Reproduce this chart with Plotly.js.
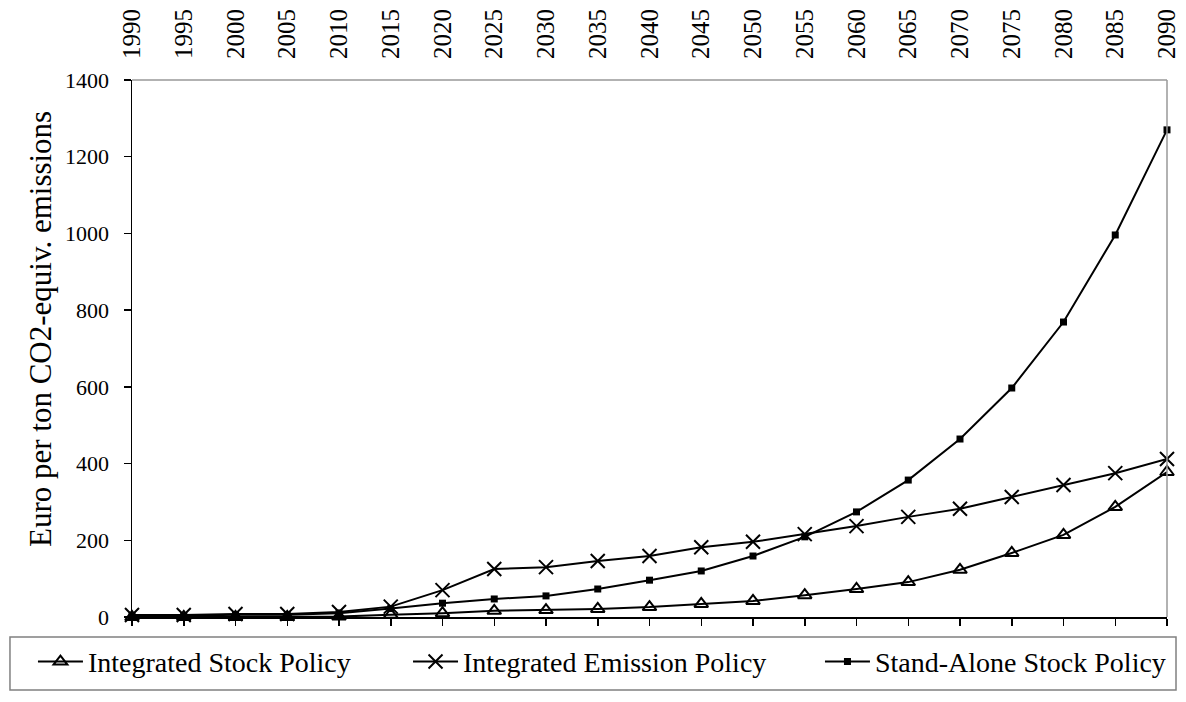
<!DOCTYPE html>
<html>
<head>
<meta charset="utf-8">
<script src="https://cdn.plot.ly/plotly-3.0.1.min.js"></script>
<style>html,body{margin:0;padding:0;background:#fff;}#chart{width:1186px;height:702px;}</style>
</head>
<body>
<div id="chart"></div>
<script>
const years = [1990,1995,2000,2005,2010,2015,2020,2025,2030,2035,2040,2045,2050,2055,2060,2065,2070,2075,2080,2085,2090];
const integratedStock = [0,0,0,0,1,6,10,16,18,21,26,34,42,57,73,91,123,167,214,287,378];
const integratedEmission = [5,5,8,8,13,27,70,125,130,146,159,182,196,216,237,261,282,313,344,375,412];
const standAloneStock = [3,3,6,6,10,22,36,47,55,73,96,120,159,209,274,357,464,597,769,996,1270];
const seriesNames = ['Integrated Stock Policy','Integrated Emission Policy','Stand-Alone Stock Policy'];
const yTicks = [0,200,400,600,800,1000,1200,1400];

const font = 'Liberation Serif, Times New Roman, serif';
const traces = [
  {x: years, y: integratedStock, name: seriesNames[0], legend: 'legend', mode: 'lines+markers', cliponaxis: false,
   line: {color: '#000', width: 2}, marker: {symbol: 'triangle-up-open', size: 12, color: '#000', line: {color: '#000', width: 2}}},
  {x: years, y: integratedEmission, name: seriesNames[1], legend: 'legend2', mode: 'lines+markers', cliponaxis: false,
   line: {color: '#000', width: 2}, marker: {symbol: 'x-thin-open', size: 14, color: '#000', line: {color: '#000', width: 2}}},
  {x: years, y: standAloneStock, name: seriesNames[2], legend: 'legend3', mode: 'lines+markers', cliponaxis: false,
   line: {color: '#000', width: 2}, marker: {symbol: 'square', size: 7, color: '#000'}},
  {x: years, y: years.map(() => null), xaxis: 'x2', showlegend: false, hoverinfo: 'skip', mode: 'lines'}
];

const legendBase = {orientation: 'h', xanchor: 'left', y: -0.037, yanchor: 'top', itemwidth: 45,
  font: {family: font, size: 28, color: '#000'}, bgcolor: 'rgba(0,0,0,0)', borderwidth: 0};

const layout = {
  width: 1186, height: 702,
  margin: {l: 132, r: 19, t: 80, b: 85, autoexpand: false},
  paper_bgcolor: '#fff', plot_bgcolor: '#fff',
  font: {family: font, size: 22, color: '#000'},
  showlegend: true,
  legend: Object.assign({}, legendBase, {x: -0.0957}),
  legend2: Object.assign({}, legendBase, {x: 0.2667}),
  legend3: Object.assign({}, legendBase, {x: 0.6647}),
  xaxis: {range: [1990, 2090], tickvals: years, showticklabels: false, ticks: 'outside', ticklen: 7,
          tickcolor: '#000', tickwidth: 1.5, showline: true, linecolor: '#000', linewidth: 1.5,
          showgrid: false, zeroline: false, fixedrange: true},
  xaxis2: {overlaying: 'x', matches: 'x', side: 'top', range: [1990, 2090], tickvals: years,
           ticktext: years.map(String), tickangle: -90, ticks: '', ticklabelstandoff: 20,
           showline: false, showgrid: false, zeroline: false,
           tickfont: {family: font, size: 25, color: '#000'}},
  yaxis: {range: [0, 1400], tickvals: yTicks, ticks: 'outside', ticklen: 7, tickcolor: '#000', tickwidth: 1.5,
          showline: true, linecolor: '#000', linewidth: 1.5, showgrid: false, zeroline: false,
          ticklabelstandoff: 10, tickfont: {family: font, size: 22, color: '#000'}},
  shapes: [
    {type: 'line', xref: 'paper', yref: 'paper', x0: 0, x1: 1, y0: 1, y1: 1, line: {color: '#999', width: 1.5}},
    {type: 'line', xref: 'paper', yref: 'paper', x0: 1, x1: 1, y0: 0, y1: 1, line: {color: '#999', width: 1.5}},
    {type: 'rect', xref: 'paper', yref: 'paper', x0: -0.1179, x1: 1.0087, y0: -0.136, y1: -0.0372,
     line: {color: '#808080', width: 1.5}, fillcolor: 'rgba(0,0,0,0)'}
  ],
  annotations: [
    {text: 'Euro per ton CO2-equiv. emissions', xref: 'paper', yref: 'paper', x: -0.089, y: 0.536,
     xanchor: 'center', yanchor: 'middle', textangle: -90, showarrow: false,
     font: {family: font, size: 31, color: '#000'}}
  ]
};

Plotly.newPlot('chart', traces, layout, {displayModeBar: false, staticPlot: true});
</script>
</body>
</html>
